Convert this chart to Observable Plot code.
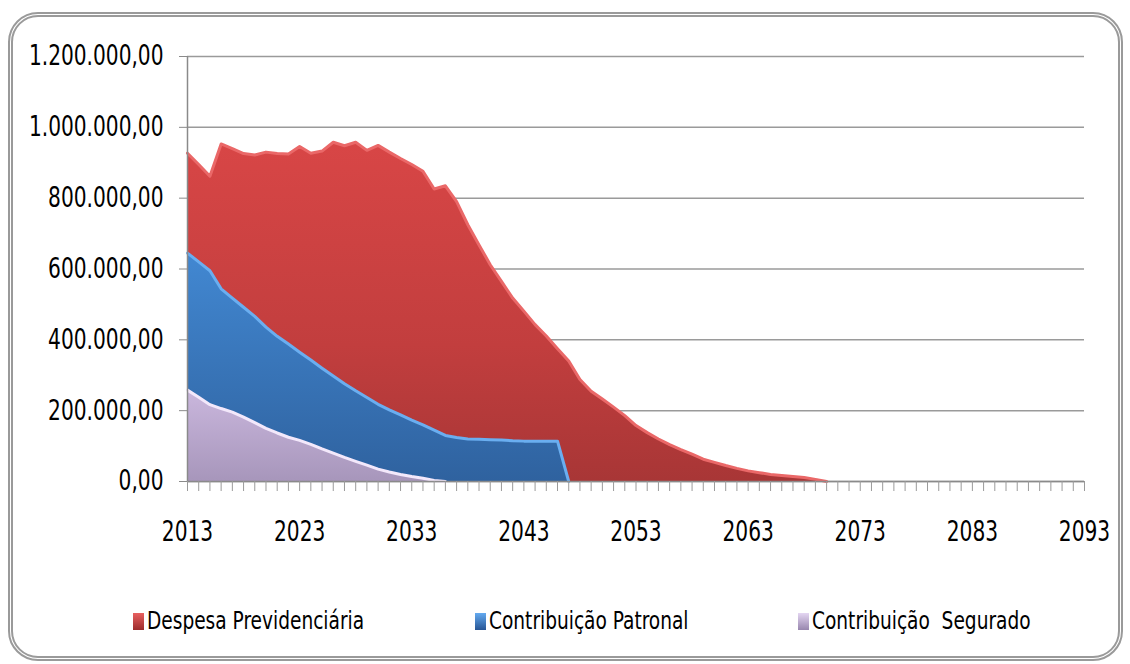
<!DOCTYPE html>
<html><head><meta charset="utf-8">
<script src="https://cdn.jsdelivr.net/npm/d3@7"></script>
<script src="https://cdn.jsdelivr.net/npm/@observablehq/plot@0.6"></script>
<style>
body{margin:0;background:#fff;}
#wrap{position:relative;width:1130px;height:664px;overflow:hidden;font-family:"DejaVu Sans Condensed","Liberation Sans",sans-serif;}
#frame{position:absolute;left:8px;top:12px;width:1115px;height:649px;box-sizing:border-box;border:5px double #9a9a9a;border-radius:30px;}
#chart{position:absolute;left:0;top:0;}
#legend{position:absolute;top:607px;left:0;width:1130px;height:34px;font-size:24px;color:#000;}
.li{position:absolute;top:0;display:flex;align-items:center;white-space:pre;}
.sw{width:11px;height:17px;margin-right:3px;flex:none;}
.li span{display:inline-block;transform:scaleX(0.86);transform-origin:left center;}
</style></head>
<body>
<div id="wrap">
  <div id="frame"></div>
  <div id="chart"></div>
  <div id="legend"></div>
</div>
<script>
const seriesNames = ["Despesa Previdenciária", "Contribuição Patronal", "Contribuição  Segurado"];

const despesaYears = [2013,2014,2015,2016,2017,2018,2019,2020,2021,2022,2023,2024,2025,2026,2027,2028,2029,2030,2031,2032,2033,2034,2035,2036,2037,2038,2039,2040,2041,2042,2043,2044,2045,2046,2047,2048,2049,2050,2051,2052,2053,2054,2055,2056,2057,2058,2059,2060,2061,2062,2063,2064,2065,2066,2067,2068,2069,2070];
const despesa = [927000,895000,862000,953000,940000,926000,922000,930000,926000,925000,946000,927000,933000,958000,948000,958000,935000,949000,930000,912000,895000,876000,826000,835000,790000,725000,668000,612000,565000,518000,481000,443000,411000,375000,340000,288000,255000,233000,210000,186000,158000,138000,120000,104000,90000,77000,63000,54000,45000,37000,30000,25000,20000,17000,14000,11000,6000,0];

const patronalYears = [2013,2014,2015,2016,2017,2018,2019,2020,2021,2022,2023,2024,2025,2026,2027,2028,2029,2030,2031,2032,2033,2034,2035,2036,2037,2038,2039,2040,2041,2042,2043,2044,2045,2046,2047];
const patronal = [645000,620000,595000,544000,518000,492000,466000,436000,410000,388000,365000,343000,320000,298000,276000,256000,237000,218000,202000,188000,173000,160000,145000,130000,124000,120000,119000,118000,117000,115000,114000,114000,114000,114000,0];

const seguradoYears = [2013,2014,2015,2016,2017,2018,2019,2020,2021,2022,2023,2024,2025,2026,2027,2028,2029,2030,2031,2032,2033,2034,2035,2036];
const segurado = [258000,238000,217000,206000,196000,182000,166000,150000,137000,125000,116000,105000,92000,80000,68000,57000,46000,35000,27000,20000,14000,9000,3000,0];

const yTicks = [0,200000,400000,600000,800000,1000000,1200000];
const xLabelTicks = [2013,2023,2033,2043,2053,2063,2073,2083,2093];
const xMinorTicks = [2013,2014,2015,2016,2017,2018,2019,2020,2021,2022,2023,2024,2025,2026,2027,2028,2029,2030,2031,2032,2033,2034,2035,2036,2037,2038,2039,2040,2041,2042,2043,2044,2045,2046,2047,2048,2049,2050,2051,2052,2053,2054,2055,2056,2057,2058,2059,2060,2061,2062,2063,2064,2065,2066,2067,2068,2069,2070,2071,2072,2073,2074,2075,2076,2077,2078,2079,2080,2081,2082,2083,2084,2085,2086,2087,2088,2089,2090,2091,2092,2093];

const rows = (ys, vs) => ys.map((y, i) => ({year: y, value: vs[i]}));
const fmt = d3.formatLocale({decimal: ",", thousands: ".", grouping: [3], currency: ["R$", ""]}).format(",.2f");
const FONT = '"DejaVu Sans Condensed","Liberation Sans",sans-serif';

const dRows = rows(despesaYears, despesa);
const pRows = rows(patronalYears, patronal);
const sRows = rows(seguradoYears, segurado);

const plot = Plot.plot({
  width: 1130, height: 560,
  marginLeft: 187, marginRight: 46, marginTop: 56, marginBottom: 79,
  style: {fontFamily: FONT, fontSize: "28px", color: "#000", background: "transparent", overflow: "visible"},
  x: {domain: [2013, 2093]},
  y: {domain: [0, 1200000]},
  marks: [
    Plot.gridY(yTicks, {stroke: "#9a9a9a", strokeOpacity: 1, strokeWidth: 1.5}),
    Plot.areaY(dRows, {x: "year", y: "value", fill: "url(#gRed)"}),
    Plot.lineY(dRows, {x: "year", y: "value", stroke: "#ea6868", strokeWidth: 3}),
    Plot.areaY(pRows, {x: "year", y: "value", fill: "url(#gBlue)"}),
    Plot.lineY(pRows, {x: "year", y: "value", stroke: "#6aaef0", strokeWidth: 3}),
    Plot.areaY(sRows, {x: "year", y: "value", fill: "url(#gPurple)"}),
    Plot.lineY(sRows, {x: "year", y: "value", stroke: "#f3e8fb", strokeWidth: 3}),
    Plot.ruleX([2013], {stroke: "#8a8a8a", strokeWidth: 1.5}),
    Plot.ruleY([0], {stroke: "#8a8a8a", strokeWidth: 1.5}),
    Plot.axisY(yTicks, {tickFormat: fmt, tickSize: 8, tickPadding: 16, stroke: "#8a8a8a", fontSize: 28, label: null}),
    Plot.axisX(xMinorTicks, {tickSize: 10, tickFormat: () => "", stroke: "#9a9a9a", label: null}),
    Plot.axisX(xLabelTicks, {tickSize: 0, tickPadding: 40, tickFormat: d => String(d), fontSize: 28, label: null})
  ]
});

const defs = d3.select(plot).insert("defs", ":first-child");
function grad(id, stops) {
  const g = defs.append("linearGradient").attr("id", id).attr("x1", 0).attr("y1", 0).attr("x2", 0).attr("y2", 1);
  stops.forEach(([o, c]) => g.append("stop").attr("offset", o).attr("stop-color", c));
}
grad("gRed", [[0, "#d84646"], [0.6, "#c23e3e"], [1, "#a83636"]]);
grad("gBlue", [[0, "#4288d2"], [1, "#2f629f"]]);
grad("gPurple", [[0, "#cab7dd"], [1, "#a796bb"]]);

document.getElementById("chart").appendChild(plot);

// condense axis label glyphs to mimic the narrow original typeface
d3.select(plot).selectAll("text").each(function() {
  const s = this.textContent;
  if (!s) return;
  const len = this.getComputedTextLength();
  if (len > 0) {
    this.setAttribute("textLength", (len * 0.8).toFixed(1));
    this.setAttribute("lengthAdjust", "spacingAndGlyphs");
  }
});

const legend = document.getElementById("legend");
const legendItems = [
  {name: seriesNames[0], x: 133, bg: "linear-gradient(#e86060,#9c2c2c)"},
  {name: seriesNames[1], x: 475, bg: "linear-gradient(#64aaf0,#275594)"},
  {name: seriesNames[2], x: 798, bg: "linear-gradient(#e4d6f2,#9886ae)"}
];
legendItems.forEach(it => {
  const d = document.createElement("div");
  d.className = "li";
  d.style.left = it.x + "px";
  const sw = document.createElement("div");
  sw.className = "sw";
  sw.style.background = it.bg;
  const t = document.createElement("span");
  t.textContent = it.name;
  d.appendChild(sw); d.appendChild(t);
  legend.appendChild(d);
});
</script>
</body></html>
